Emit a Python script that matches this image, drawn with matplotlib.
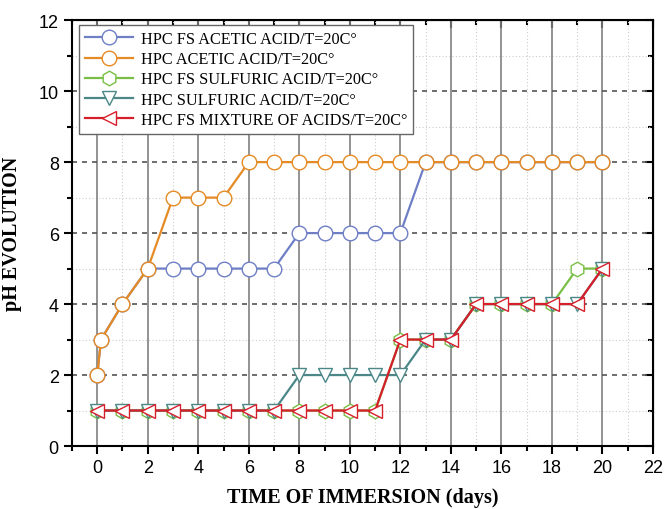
import numpy as np
import matplotlib.pyplot as plt
from matplotlib.ticker import MultipleLocator

# temps d'immersion (jours) et pH mesurés
jours = [0, 0.15, 1, 2, 3, 4, 5, 6, 7, 8, 9, 10, 11, 12, 13, 14, 15, 16, 17, 18, 19, 20]
jours_sulf = [0, 1, 2, 3, 4, 5, 6, 7, 8, 9, 10, 11, 12, 13, 14, 15, 16, 17, 18, 19, 20]

ph_fs_acetique = [2, 3, 4, 5, 5, 5, 5, 5, 5, 6, 6, 6, 6, 6, 8, 8, 8, 8, 8, 8, 8, 8]
ph_acetique = [2, 3, 4, 5, 7, 7, 7, 8, 8, 8, 8, 8, 8, 8, 8, 8, 8, 8, 8, 8, 8, 8]
ph_fs_sulfurique = [1, 1, 1, 1, 1, 1, 1, 1, 1, 1, 1, 1, 3, 3, 3, 4, 4, 4, 4, 5, 5]
ph_sulfurique = [1, 1, 1, 1, 1, 1, 1, 1, 2, 2, 2, 2, 2, 3, 3, 4, 4, 4, 4, 4, 5]
ph_fs_melange = [1, 1, 1, 1, 1, 1, 1, 1, 1, 1, 1, 1, 3, 3, 3, 4, 4, 4, 4, 4, 5]

legendes = [
    "HPC FS ACETIC ACID/T=20C°",
    "HPC ACETIC ACID/T=20C°",
    "HPC FS SULFURIC ACID/T=20C°",
    "HPC SULFURIC ACID/T=20C°",
    "HPC FS MIXTURE OF ACIDS/T=20C°",
]

series = [
    (jours, ph_fs_acetique, "#6f7fc6", "o"),
    (jours, ph_acetique, "#e58b25", "o"),
    (jours_sulf, ph_fs_sulfurique, "#79bf45", "h"),
    (jours_sulf, ph_sulfurique, "#4b8787", "v"),
    (jours_sulf, ph_fs_melange, "#d61f2b", "<"),
]

fig = plt.figure(figsize=(6.64, 5.10), dpi=100)
ax = fig.add_axes([0.1084, 0.1235, 0.875, 0.835])

for (x, y, couleur, marq), nom in zip(series, legendes):
    ax.plot(x, y, color=couleur, lw=1.6, marker=marq, markersize=10.5,
            markerfacecolor="white", markeredgecolor=couleur, markeredgewidth=1.0,
            label=nom)

ax.set_xlim(-1, 22)
ax.set_ylim(0, 12)
ax.xaxis.set_major_locator(MultipleLocator(2))
ax.xaxis.set_minor_locator(MultipleLocator(1))
ax.yaxis.set_major_locator(MultipleLocator(2))
ax.yaxis.set_minor_locator(MultipleLocator(1))
ax.set_xticks(np.arange(0, 23, 2))

# grille : verticale pleine, horizontale en tirets
ax.grid(False)
for xv in range(0, 21, 2):
    ax.axvline(xv, color="#808080", lw=1.2, zorder=0.5)
for yv in range(2, 12, 2):
    ax.axhline(yv, color="#555555", lw=1.2, ls=(0, (3, 3)), zorder=0.5)
for xv in range(1, 22, 2):
    ax.axvline(xv, color="#cccccc", lw=0.8, ls=(0, (1, 2)), zorder=0.4)
for yv in range(1, 12, 2):
    ax.axhline(yv, color="#cccccc", lw=0.8, ls=(0, (1, 2)), zorder=0.4)

for s in ax.spines.values():
    s.set_linewidth(1.5)

ax.tick_params(which="both", direction="out", top=False, right=False, width=1.5)
ax.tick_params(which="major", length=6, labelsize=13)
ax.tick_params(which="minor", length=3.5)
ax_top = ax.secondary_xaxis("top")
ax_top.set_xticks(np.arange(0, 23, 2))
ax_top.xaxis.set_minor_locator(MultipleLocator(1))
ax_top.tick_params(which="both", direction="in", labeltop=False, width=1.5)
ax_top.tick_params(which="major", length=6)
ax_top.tick_params(which="minor", length=3.5)
ax_right = ax.secondary_yaxis("right")
ax_right.set_yticks(np.arange(0, 13, 2))
ax_right.yaxis.set_minor_locator(MultipleLocator(1))
ax_right.tick_params(which="both", direction="in", labelright=False, width=1.5)
ax_right.tick_params(which="major", length=6)
ax_right.tick_params(which="minor", length=3.5)

for lab in ax.get_xticklabels() + ax.get_yticklabels():
    lab.set_family("Liberation Sans")

ax.set_xlabel("TIME OF IMMERSION (days)", family="Liberation Serif",
              fontweight="bold", fontsize=14.5, labelpad=8)
ax.set_ylabel("pH EVOLUTION", family="Liberation Serif",
              fontweight="bold", fontsize=14.5, labelpad=12)

leg = ax.legend(loc="upper left", bbox_to_anchor=(0.012, 0.988), fancybox=False,
                prop={"family": "Liberation Serif", "size": 11.7},
                handlelength=3.0, handletextpad=0.45, labelspacing=0.26,
                borderpad=0.35, borderaxespad=0, framealpha=1)
leg.get_frame().set_edgecolor("#666666")
leg.get_frame().set_linewidth(1.0)

fig.savefig("out.png", dpi=100)
